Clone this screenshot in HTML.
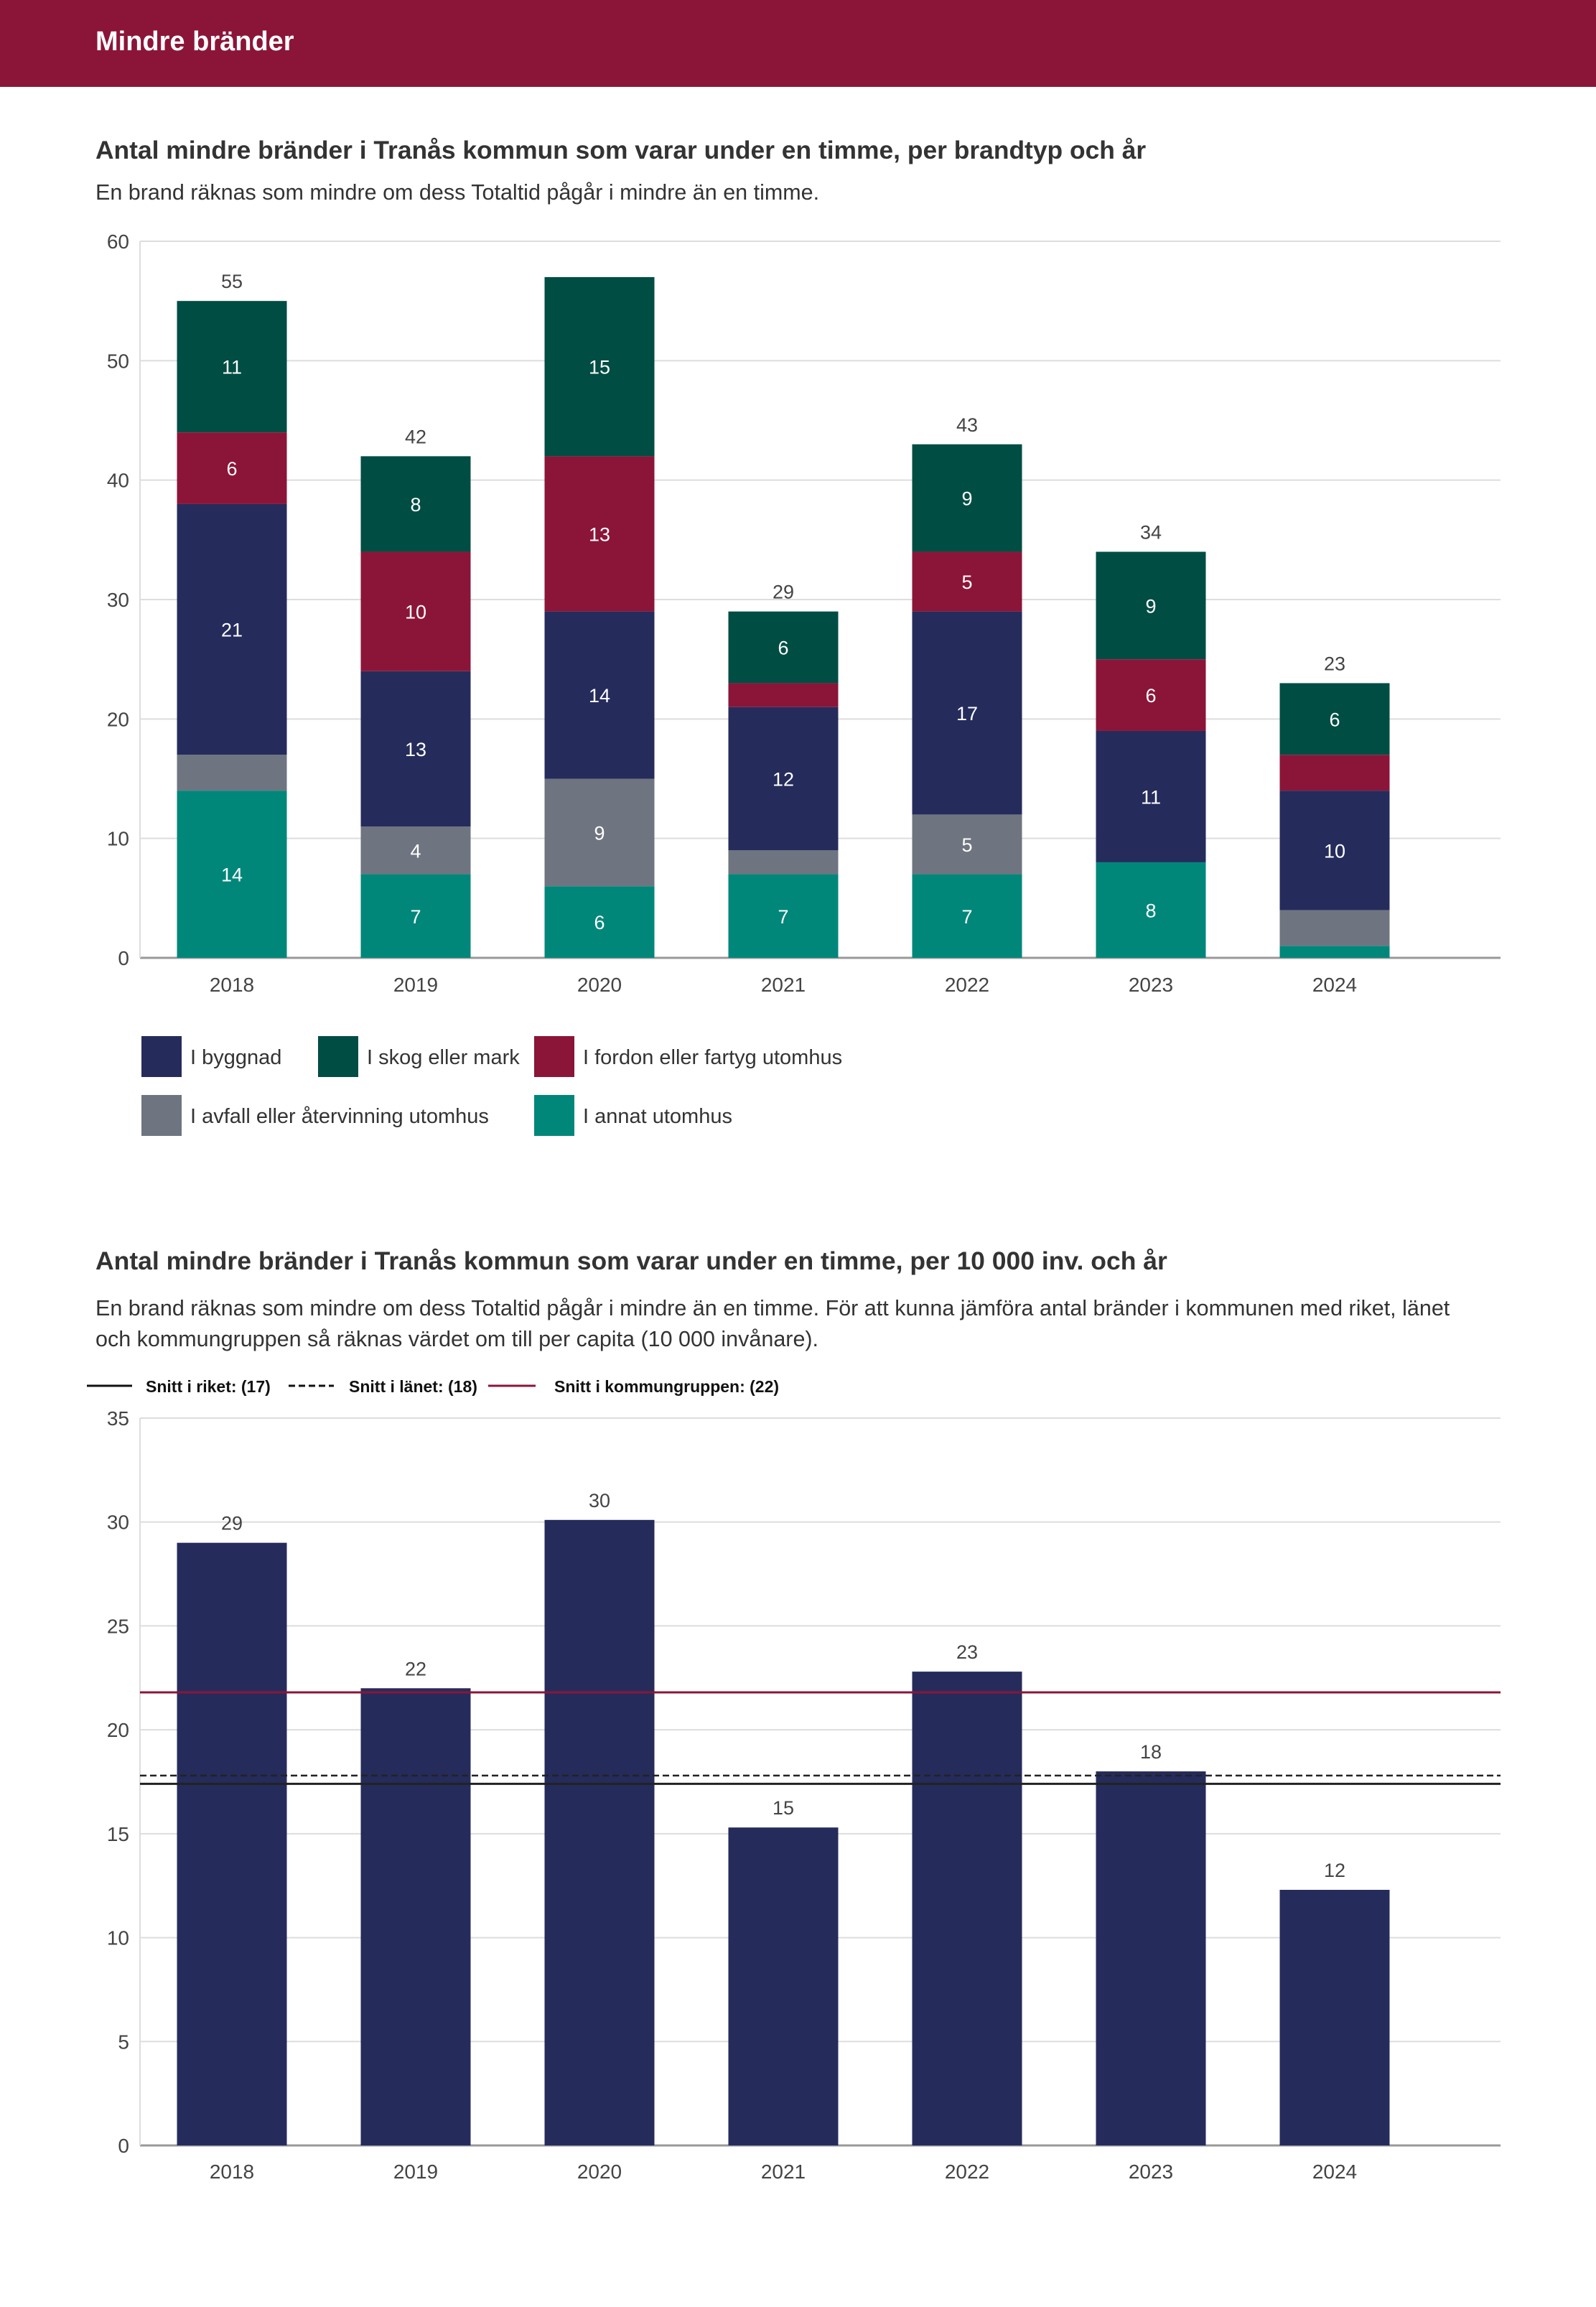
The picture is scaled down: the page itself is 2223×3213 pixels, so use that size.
<!DOCTYPE html>
<html><head><meta charset="utf-8"><style>
html,body{margin:0;padding:0;background:#fff;}
svg{display:block;font-family:"Liberation Sans",sans-serif;}
</style></head><body>
<svg id="page" width="2223" height="3213" viewBox="0 0 2223 3213" xmlns="http://www.w3.org/2000/svg">
<rect x="0" y="0" width="2223" height="121" fill="#8b1538"/>
<text x="133" y="70" font-size="38" font-weight="bold" fill="#fff">Mindre bränder</text>

<text x="133" y="221" font-size="35.4" font-weight="bold" fill="#333">Antal mindre bränder i Tranås kommun som varar under en timme, per brandtyp och år</text>
<text x="133" y="278" font-size="30.5" fill="#333">En brand räknas som mindre om dess Totaltid pågår i mindre än en timme.</text>
<g id="c1"></g>
<g id="leg1"></g>

<text x="133" y="1768" font-size="35.5" font-weight="bold" fill="#333">Antal mindre bränder i Tranås kommun som varar under en timme, per 10 000 inv. och år</text>
<text x="133" y="1832" font-size="30.5" fill="#333">En brand räknas som mindre om dess Totaltid pågår i mindre än en timme. För att kunna jämföra antal bränder i kommunen med riket, länet</text>
<text x="133" y="1875" font-size="30.5" fill="#333">och kommungruppen så räknas värdet om till per capita (10 000 invånare).</text>
<g>
<line x1="121" y1="1930" x2="184" y2="1930" stroke="#111" stroke-width="3"/>
<text x="203" y="1939" font-size="23" font-weight="bold" fill="#111">Snitt i riket: (17)</text>
<line x1="402" y1="1930" x2="465" y2="1930" stroke="#111" stroke-width="3" stroke-dasharray="9,5"/>
<text x="486" y="1939" font-size="23" font-weight="bold" fill="#111">Snitt i länet: (18)</text>
<line x1="680" y1="1930" x2="746" y2="1930" stroke="#8b1538" stroke-width="3"/>
<text x="772" y="1939" font-size="23" font-weight="bold" fill="#111">Snitt i kommungruppen: (22)</text>
</g>
<g id="c2"></g>
</svg>
<script>
const years = ["2018","2019","2020","2021","2022","2023","2024"];
const annat = [14,7,6,7,7,8,1];
const avfall = [3,4,9,2,5,0,3];
const byggnad = [21,13,14,12,17,11,10];
const fordon = [6,10,13,2,5,6,3];
const skog = [11,8,15,6,9,9,6];
const totalsShown = [true,true,false,true,true,true,true];
const ticks1 = [0,10,20,30,40,50,60];
const perCapita = [29.0,22.0,30.1,15.3,22.8,18.0,12.3];
const ticks2 = [0,5,10,15,20,25,30,35];
const avgRiket = [17.4];
const avgLanet = [17.8];
const avgKommun = [21.8];

const NS="http://www.w3.org/2000/svg";
function mk(tag,attrs,parent,txt){const e=document.createElementNS(NS,tag);for(const k in attrs)e.setAttribute(k,attrs[k]);if(txt!==undefined)e.textContent=txt;parent.appendChild(e);return e;}
const X0=195,X1=2090,BW=153;
function xc(i){return 323+i*256;}

// chart 1
const c1=document.getElementById('c1');
const y1=v=>1334-v*(1334-336)/60;
ticks1.forEach(t=>{
  const l=mk('line',{x1:X0,x2:X1,y1:y1(t),y2:y1(t),stroke:t===0?'#999':'#ddd','stroke-width':t===0?3:2},c1);
  
  
  const tx=mk('text',{x:180,y:y1(t)+10,'font-size':28,'text-anchor':'end',fill:'#444'},c1,String(t));
  
  
});
mk('line',{x1:X0,x2:X0,y1:336,y2:1334,stroke:'#ddd','stroke-width':2},c1);
const series=[{d:annat,c:'#00877a',n:'annat'},{d:avfall,c:'#6e7580',n:'avfall'},{d:byggnad,c:'#252c5c',n:'byggnad'},{d:fordon,c:'#8b1538',n:'fordon'},{d:skog,c:'#004d44',n:'skog'}];
years.forEach((yr,i)=>{
  let acc=0;
  series.forEach(s=>{
    const v=s.d[i]; if(v<=0)return;
    const r=mk('rect',{x:xc(i)-BW/2,y:y1(acc+v),width:BW,height:y1(acc)-y1(acc+v),fill:s.c},c1);
    
    
    if(v>=4){const t=mk('text',{x:xc(i),y:(y1(acc)+y1(acc+v))/2+10,'font-size':27,'text-anchor':'middle',fill:'#fff'},c1,String(v));
      
      }
    acc+=v;
  });
  if(totalsShown[i]){const t=mk('text',{x:xc(i),y:y1(acc)-18,'font-size':27,'text-anchor':'middle',fill:'#444'},c1,String(acc));
    
    }
  const xl=mk('text',{x:xc(i),y:1381,'font-size':28,'text-anchor':'middle',fill:'#444'},c1,yr);
  
  
});
// legend 1
const leg=document.getElementById('leg1');
const legItems=[['I byggnad','#252c5c',197,1443],['I skog eller mark','#004d44',443,1443],['I fordon eller fartyg utomhus','#8b1538',744,1443],['I avfall eller återvinning utomhus','#6e7580',197,1525],['I annat utomhus','#00877a',744,1525]];
legItems.forEach(it=>{
  const g=mk('g',{},leg);
  
  
  mk('rect',{x:it[2],y:it[3],width:56,height:57,fill:it[1]},g);
  mk('text',{x:it[2]+68,y:it[3]+39,'font-size':29,fill:'#333'},g,it[0]);
});

// chart 2
const c2=document.getElementById('c2');
const y2=v=>2988-v*(2988-1975)/35;
ticks2.forEach(t=>{
  const l=mk('line',{x1:X0,x2:X1,y1:y2(t),y2:y2(t),stroke:t===0?'#999':'#ddd','stroke-width':t===0?3:2},c2);
  
  
  const tx=mk('text',{x:180,y:y2(t)+10,'font-size':28,'text-anchor':'end',fill:'#444'},c2,String(t));
  
  
});
mk('line',{x1:X0,x2:X0,y1:1975,y2:2988,stroke:'#ddd','stroke-width':2},c2);
years.forEach((yr,i)=>{
  const v=perCapita[i];
  const r=mk('rect',{x:xc(i)-BW/2,y:y2(v),width:BW,height:y2(0)-y2(v),fill:'#252c5c'},c2);
  
  
  const t=mk('text',{x:xc(i),y:y2(v)-18,'font-size':27,'text-anchor':'middle',fill:'#444'},c2,String(Math.round(v)));
  
  
  const xl=mk('text',{x:xc(i),y:3034,'font-size':28,'text-anchor':'middle',fill:'#444'},c2,yr);
  
  
});
const l1=mk('line',{x1:X0,x2:X1,y1:y2(avgRiket[0]),y2:y2(avgRiket[0]),stroke:'#222','stroke-width':3},c2);


const l2=mk('line',{x1:X0,x2:X1,y1:y2(avgLanet[0]),y2:y2(avgLanet[0]),stroke:'#222','stroke-width':2.5,'stroke-dasharray':'9,5'},c2);


const l3=mk('line',{x1:X0,x2:X1,y1:y2(avgKommun[0]),y2:y2(avgKommun[0]),stroke:'#8b1538','stroke-width':3},c2);


</script>
</body></html>
